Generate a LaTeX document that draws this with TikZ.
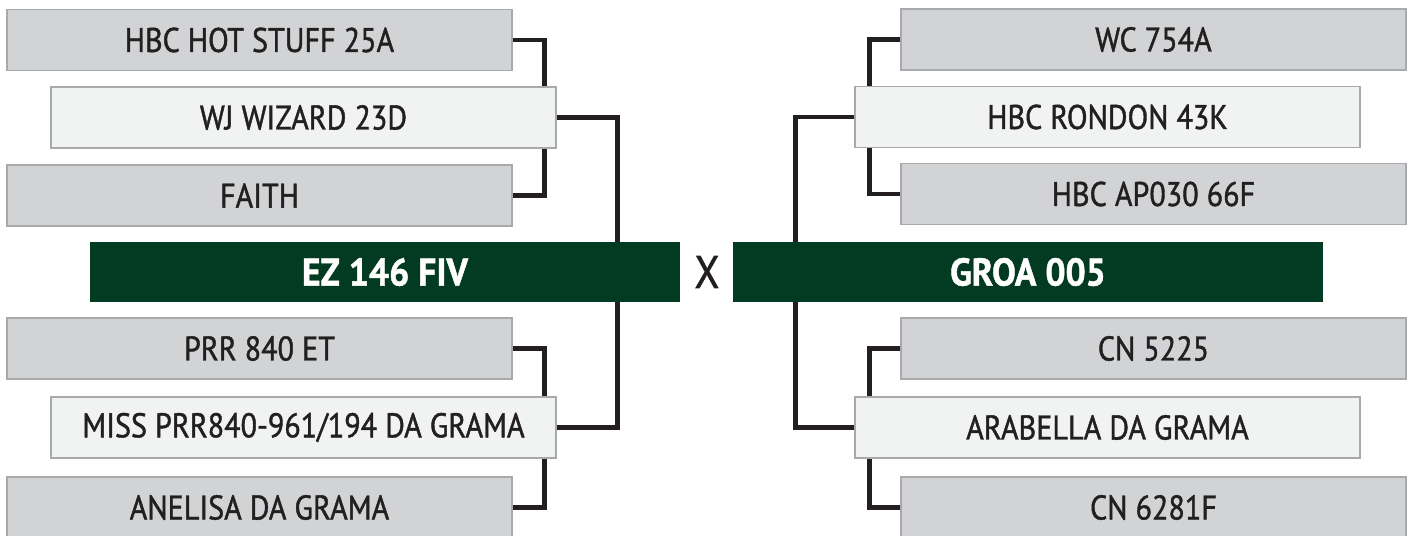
\documentclass[tikz,border=0pt]{standalone}
\usepackage{fontspec}
\setmainfont{PT Sans}[FakeStretch=0.88, FakeBold=1.2,
  BoldFont={PT Sans Bold}, BoldFeatures={FakeStretch=0.92}]
\usepackage{xcolor}
\usepackage{tikz}
\usetikzlibrary{positioning,calc}
\definecolor{boxgray}{HTML}{D1D3D4}
\definecolor{boxline}{HTML}{A7A9AC}
\definecolor{boxlight}{HTML}{F1F2F2}
\definecolor{herd}{HTML}{033A22}
\definecolor{ink}{HTML}{231F20}
\tikzset{
  anc/.style={rectangle, draw=boxline, line width=0.03cm, fill=boxgray, align=center,
              font=\fontsize{19.5}{22}\selectfont, text=ink, inner sep=0pt,
              minimum width=10.1cm, minimum height=1.22cm},
  par/.style={anc, fill=boxlight},
  mate/.style={rectangle, fill=herd, text=white, align=center, inner sep=0pt,
               font=\fontsize{22}{26}\selectfont\bfseries,
               minimum width=11.8cm, minimum height=1.2cm},
  link/.style={draw=ink, line width=0.095cm},
}
\begin{document}
\begin{tikzpicture}[x=0.02cm, y=-0.02cm]
\useasboundingbox (0,0) rectangle (1411,535);
% left pedigree
\node[anc] (hbc) at (259.5,40) {HBC HOT STUFF 25A};
\node[par] (wj) at (303.5,117.5) {WJ WIZARD 23D};
\node[anc] (faith) at (259.5,195.5) {FAITH};
\node[mate] (ez) at (385,272) {EZ 146 FIV};
\node[anc] (prr) at (259.5,348.5) {PRR 840 ET};
\node[par] (miss) at (303.5,427.5) {MISS PRR840-961/194 DA GRAMA};
\node[anc] (anel) at (259.5,507.5) {ANELISA DA GRAMA};
% right pedigree
\node[anc] (wc) at (1153.5,39.5) {WC 754A};
\node[par] (rond) at (1107.5,117) {HBC RONDON 43K};
\node[anc] (ap) at (1153.5,194) {HBC AP030 66F};
\node[mate] (groa) at (1028,272) {GROA 005};
\node[anc] (cn1) at (1153.5,348.5) {CN 5225};
\node[par] (arab) at (1107.5,427.5) {ARABELLA DA GRAMA};
\node[anc] (cn2) at (1153.5,507.5) {CN 6281F};
\node[text=ink, font=\fontsize{26}{30}\selectfont] (x) at (707,272) {X};
% connectors
\draw[link] (hbc.east) -| ([xshift=-0.24cm]wj.north east);
\draw[link] (faith.east) -| ([xshift=-0.24cm]wj.south east);
\draw[link] (wj.east) -| ([xshift=-1.26cm]ez.north east);
\draw[link] (prr.east) -| ([xshift=-0.24cm]miss.north east);
\draw[link] (anel.east) -| ([xshift=-0.24cm]miss.south east);
\draw[link] (miss.east) -| ([xshift=-1.26cm]ez.south east);
\draw[link] (wc.west) -| ([xshift=0.3cm]rond.north west);
\draw[link] (ap.west) -| ([xshift=0.3cm]rond.south west);
\draw[link] (rond.west) -| ([xshift=1.26cm]groa.north west);
\draw[link] (cn1.west) -| ([xshift=0.3cm]arab.north west);
\draw[link] (cn2.west) -| ([xshift=0.3cm]arab.south west);
\draw[link] (arab.west) -| ([xshift=1.26cm]groa.south west);
\end{tikzpicture}
\end{document}
